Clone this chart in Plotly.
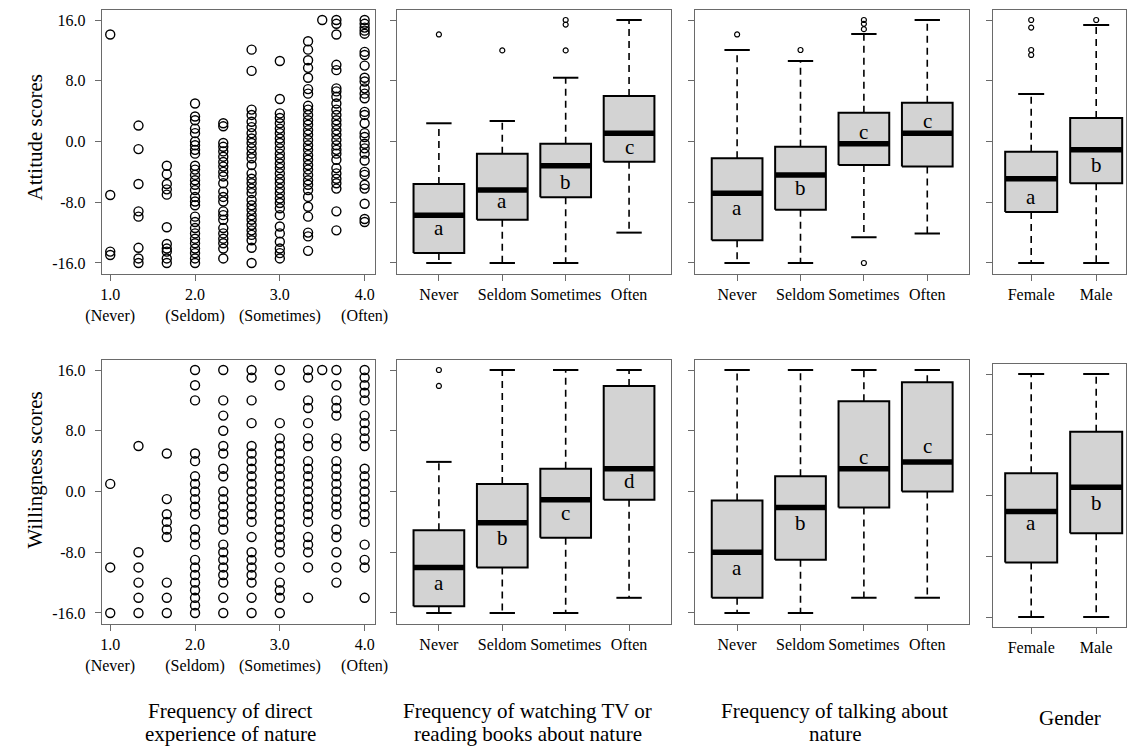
import plotly.graph_objects as go

FONT = "Liberation Serif"

# ---------------- data ----------------
freq_levels = ["Never", "Seldom", "Sometimes", "Often"]
gender_levels = ["Female", "Male"]

y_ticks = [-16, -8, 0, 8, 16]
y_tick_text = ["-16.0", "-8.0", "0.0", "8.0", "16.0"]

direct_levels = [1.0, 1.333, 1.667, 2.0, 2.333, 2.667, 3.0, 3.333, 3.5, 3.667, 4.0]
direct_ticks = [1.0, 2.0, 3.0, 4.0]
direct_tick_text = ["1.0<br>(Never)", "2.0<br>(Seldom)", "3.0<br>(Sometimes)", "4.0<br>(Often)"]

attitude_by_direct = [
    [14.1, -7.05, -14.5, -14.95],
    [2.1, -1.0, -5.6, -9.2, -9.9, -14.0, -15.4, -16.0],
    [-3.2, -4.3, -5.6, -6.3, -7.0, -11.3, -13.5, -14.1, -14.5, -15.4, -16.0],
    [5.0, 3.3, 2.8, 1.7, 1.1, 0.0, -0.5, -1.1, -1.6, -3.2, -3.7, -4.4, -5.1, -5.7, -6.4,
     -7.3, -7.9, -8.4, -9.9, -10.6, -11.4, -12.1, -12.8, -13.4, -14.1, -14.7, -15.4, -16.0],
    [2.4, 2.0, -0.2, -0.7, -1.3, -2.0, -2.7, -3.3, -4.0, -4.6, -5.5, -6.6, -7.3, -7.9,
     -9.2, -9.7, -10.3, -11.4, -12.1, -12.8, -13.4, -14.1, -15.4],
    [12.1, 9.3, 4.2, 3.5, 2.6, 1.9, 1.1, 0.4, -0.2, -0.9, -1.6, -2.2, -3.1, -4.2, -4.9,
     -5.5, -6.2, -6.8, -7.7, -8.4, -9.0, -9.7, -10.3, -11.0, -11.7, -12.3, -13.0, -14.0, -16.0],
    [10.6, 5.6, 3.7, 3.1, 2.4, 1.7, 1.1, 0.4, -0.2, -0.9, -1.6, -2.2, -2.9, -3.5, -4.2,
     -4.9, -5.5, -6.2, -6.8, -7.5, -8.1, -8.8, -9.7, -11.2, -12.1, -13.2, -14.1, -14.7, -15.4],
    [13.2, 12.1, 10.7, 9.7, 8.4, 6.9, 6.3, 4.7, 4.2, 3.5, 2.8, 2.2, 1.5, 0.9, 0.2, -0.5,
     -1.1, -1.8, -2.4, -3.1, -3.7, -4.4, -5.1, -5.7, -6.4, -7.3, -8.6, -9.9, -12.0, -12.5, -14.4],
    [16.0],
    [16.0, 15.5, 14.1, 10.1, 9.4, 7.0, 6.6, 5.9, 5.0, 4.2, 3.5, 2.8, 2.2, 1.5, 0.9, 0.2,
     -0.5, -1.1, -1.6, -2.4, -3.5, -4.2, -4.9, -5.5, -6.2, -9.2, -11.7],
    [16.0, 15.5, 15.0, 14.6, 14.2, 11.8, 11.4, 10.0, 8.4, 7.9, 7.0, 6.3, 5.7, 3.9, 3.5,
     2.4, 1.1, 0.6, -0.3, -0.9, -1.6, -2.5, -4.0, -4.4, -5.7, -6.2, -8.2, -10.2, -10.6],
]

willingness_by_direct = [
    [1, -10, -16],
    [6, -8, -10, -12, -14, -16],
    [5, -1, -3, -4, -5, -6, -12, -14, -16],
    [16, 14, 12, 5, 4, 2, 1, 0, -1, -2, -3, -5, -6, -7, -9, -10, -11, -12, -13, -14, -15, -16],
    [16, 12, 10, 8, 6, 5, 3, 2, 0, -1, -2, -3, -4, -5, -7, -8, -9, -10, -11, -12, -14, -16],
    [16, 15, 12, 9, 6, 5, 4, 3, 2, 1, 0, -1, -2, -3, -4, -6, -8, -9, -10, -11, -12, -14, -16],
    [16, 14, 9, 7, 6, 5, 4, 3, 2, 1, 0, -1, -2, -3, -4, -5, -6, -7, -8, -10, -12, -13, -14, -16],
    [16, 15, 12, 11, 9, 7, 6, 4, 3, 2, 1, 0, -1, -2, -3, -4, -6, -7, -8, -10, -14],
    [16],
    [16, 14, 12, 11, 10, 7, 6, 4, 3, 2, 1, 0, -1, -2, -3, -5, -6, -8, -10, -12],
    [16, 15, 14, 13, 12, 10, 9, 8, 7, 6, 3, 2, 1, 0, -1, -2, -3, -4, -7, -9, -10, -14],
]

# attitude ~ TV / books
att_tv_lower = [-16.0, -16.0, -16.0, -12.0]
att_tv_q1 = [-14.7, -10.3, -7.35, -2.65]
att_tv_median = [-9.7, -6.4, -3.2, 1.1]
att_tv_q3 = [-5.6, -1.6, -0.3, 6.0]
att_tv_upper = [2.4, 2.7, 8.4, 16.0]
att_tv_outliers = [[14.1], [12.0], [16.0, 15.4, 12.0], []]
att_tv_mean = [-11.4, -7.9, -5.3, -0.7]
att_tv_letters = ["a", "a", "b", "c"]

# attitude ~ talking
att_talk_lower = [-16.0, -16.0, -12.6, -12.1]
att_talk_q1 = [-13.0, -9.0, -3.1, -3.3]
att_talk_median = [-6.8, -4.4, -0.3, 1.1]
att_talk_q3 = [-2.2, -0.7, 3.8, 5.1]
att_talk_upper = [12.05, 10.6, 14.15, 16.0]
att_talk_outliers = [[14.1], [12.05], [16.0, 15.5, 14.8, -16.0], []]
att_talk_mean = [-8.8, -6.1, 1.3, 2.75]
att_talk_letters = ["a", "b", "c", "c"]

# attitude ~ gender
att_gen_lower = [-16.0, -16.0]
att_gen_q1 = [-9.3, -5.5]
att_gen_median = [-4.9, -1.1]
att_gen_q3 = [-1.35, 3.1]
att_gen_upper = [6.25, 15.35]
att_gen_outliers = [[16.0, 15.0, 12.05, 11.4], [16.0]]
att_gen_mean = [-7.25, -3.1]
att_gen_letters = ["a", "b"]

# willingness ~ TV / books
wil_tv_lower = [-16.0, -16.0, -16.0, -14.0]
wil_tv_q1 = [-15.1, -10.0, -6.1, -1.1]
wil_tv_median = [-10.0, -4.1, -1.1, 3.0]
wil_tv_q3 = [-5.1, 1.0, 3.0, 13.9]
wil_tv_upper = [3.9, 16.0, 16.0, 16.0]
wil_tv_outliers = [[16.0, 13.9], [], [], []]
wil_tv_mean = [-12.1, -6.1, -2.8, 1.4]
wil_tv_letters = ["a", "b", "c", "d"]

# willingness ~ talking
wil_talk_lower = [-16.0, -16.0, -14.0, -14.0]
wil_talk_q1 = [-14.0, -9.0, -2.1, 0.0]
wil_talk_median = [-8.0, -2.1, 3.0, 3.9]
wil_talk_q3 = [-1.2, 2.0, 11.9, 14.4]
wil_talk_upper = [16.0, 16.0, 16.0, 16.0]
wil_talk_outliers = [[], [], [], []]
wil_talk_mean = [-10.1, -4.1, 4.6, 6.0]
wil_talk_letters = ["a", "b", "c", "c"]

# willingness ~ gender
wil_gen_lower = [-16.0, -16.0]
wil_gen_q1 = [-8.8, -4.95]
wil_gen_median = [-2.1, 1.1]
wil_gen_q3 = [2.95, 8.4]
wil_gen_upper = [16.0, 16.0]
wil_gen_outliers = [[], []]
wil_gen_mean = [-3.6, -1.0]
wil_gen_letters = ["a", "b"]

row_titles = ["Attitude scores", "Willingness scores"]
col_titles = [
    ["Frequency of direct", "experience of nature"],
    ["Frequency of watching TV or", "reading books about nature"],
    ["Frequency of talking about", "nature"],
    ["Gender"],
]

# ---------------- figure ----------------
fig = go.Figure()
W, H = 1140, 746
AX = "#6a6a6a"


def add_scatter(n, groups):
    xs, ys = [], []
    for lev, vals in zip(direct_levels, groups):
        for v in vals:
            xs.append(lev)
            ys.append(v)
    fig.add_trace(go.Scatter(
        x=xs, y=ys, mode="markers", xaxis=f"x{n}", yaxis=f"y{n}",
        marker=dict(symbol="circle-open", size=9, color="black", line=dict(width=1.4)),
        showlegend=False, hoverinfo="skip"))


def add_boxes(n, lo, q1, med, q3, hi, outl, means, letters):
    xa, ya = f"x{n}", f"y{n}"
    bw, cw = 0.4, 0.2
    wx, wy, cx, cy, rx, ry, mx, my, ox, oy = [], [], [], [], [], [], [], [], [], []
    for i in range(len(q1)):
        c = i + 1
        wx += [c, c, None, c, c, None]
        wy += [q3[i], hi[i], None, q1[i], lo[i], None]
        cx += [c - cw, c + cw, None, c - cw, c + cw, None]
        cy += [hi[i], hi[i], None, lo[i], lo[i], None]
        rx += [c - bw, c + bw, c + bw, c - bw, c - bw, None]
        ry += [q1[i], q1[i], q3[i], q3[i], q1[i], None]
        mx += [c - bw, c + bw, None]
        my += [med[i], med[i], None]
        for v in outl[i]:
            ox.append(c)
            oy.append(v)
    common = dict(xaxis=xa, yaxis=ya, showlegend=False, hoverinfo="skip")
    fig.add_trace(go.Scatter(x=wx, y=wy, mode="lines",
                             line=dict(color="black", width=1.6, dash="7px,5px"), **common))
    fig.add_trace(go.Scatter(x=cx, y=cy, mode="lines",
                             line=dict(color="black", width=2), **common))
    fig.add_trace(go.Scatter(x=rx, y=ry, mode="lines", fill="toself", fillcolor="#d3d3d3",
                             line=dict(color="black", width=2), **common))
    fig.add_trace(go.Scatter(x=mx, y=my, mode="lines",
                             line=dict(color="black", width=5.5), **common))
    if ox:
        fig.add_trace(go.Scatter(x=ox, y=oy, mode="markers",
                                 marker=dict(symbol="circle-open", size=5, color="black",
                                             line=dict(width=1.2)), **common))
    for i, t in enumerate(letters):
        fig.add_annotation(x=i + 1, y=means[i], xref=xa, yref=ya, text=t, showarrow=False,
                           font=dict(family=FONT, size=21, color="black"),
                           xanchor="center", yanchor="middle")


add_scatter(1, attitude_by_direct)
add_boxes(2, att_tv_lower, att_tv_q1, att_tv_median, att_tv_q3, att_tv_upper,
          att_tv_outliers, att_tv_mean, att_tv_letters)
add_boxes(3, att_talk_lower, att_talk_q1, att_talk_median, att_talk_q3, att_talk_upper,
          att_talk_outliers, att_talk_mean, att_talk_letters)
add_boxes(4, att_gen_lower, att_gen_q1, att_gen_median, att_gen_q3, att_gen_upper,
          att_gen_outliers, att_gen_mean, att_gen_letters)
add_scatter(5, willingness_by_direct)
add_boxes(6, wil_tv_lower, wil_tv_q1, wil_tv_median, wil_tv_q3, wil_tv_upper,
          wil_tv_outliers, wil_tv_mean, wil_tv_letters)
add_boxes(7, wil_talk_lower, wil_talk_q1, wil_talk_median, wil_talk_q3, wil_talk_upper,
          wil_talk_outliers, wil_talk_mean, wil_talk_letters)
add_boxes(8, wil_gen_lower, wil_gen_q1, wil_gen_median, wil_gen_q3, wil_gen_upper,
          wil_gen_outliers, wil_gen_mean, wil_gen_letters)

# pixel layout
col_px = [(88, 368), (391, 672), (697, 978), (1003, 1139)]
row_px = [(10, 274), (360, 624)]
gender_bottom_px = (364, 627)

layout = {}
for n in range(1, 9):
    r = (n - 1) // 4
    c = (n - 1) % 4
    x0, x1 = col_px[c]
    y0, y1 = row_px[r]
    if n == 8:
        y0, y1 = gender_bottom_px
    xd = [x0 / W, x1 / W]
    yd = [1 - y1 / H, 1 - y0 / H]
    base = dict(showline=True, mirror=True, linecolor=AX, linewidth=1, ticks="outside",
                ticklen=6, tickcolor=AX, tickwidth=1, showgrid=False, zeroline=False,
                tickfont=dict(family=FONT, size=16, color="black"), fixedrange=True)
    if c == 0:
        xax = dict(base, domain=xd, anchor=f"y{n}", range=[0.9, 4.118],
                   tickvals=direct_ticks, ticktext=direct_tick_text)
    elif c in (1, 2):
        xax = dict(base, domain=xd, anchor=f"y{n}", range=[0.34, 4.66],
                   tickvals=[1, 2, 3, 4], ticktext=freq_levels)
    else:
        xax = dict(base, domain=xd, anchor=f"y{n}", range=[0.42, 0.42 + 136 / 66.7],
                   tickvals=[1, 2], ticktext=gender_levels)
    yr = [-17.45, 17.32] if n != 8 else [-17.3, 17.32]
    yax = dict(base, domain=yd, anchor=f"x{n}", range=yr, tickvals=y_ticks,
               ticktext=y_tick_text, showticklabels=(c == 0), ticklabelstandoff=6)
    key = "" if n == 1 else str(n)
    layout["xaxis" + key] = xax
    layout["yaxis" + key] = yax

fig.update_layout(**layout)

# row titles
for txt, yc in zip(row_titles, [137, 470]):
    fig.add_annotation(x=19 / W, y=1 - yc / H, xref="paper", yref="paper", text=txt,
                       textangle=-90, showarrow=False,
                       font=dict(family=FONT, size=21, color="black"),
                       xanchor="center", yanchor="middle")

# column titles
col_centers = [220, 525, 840, 1081]
for lines, xc in zip(col_titles, col_centers):
    ys = [711, 734] if len(lines) == 2 else [718]
    for line, yc in zip(lines, ys):
        fig.add_annotation(x=xc / W, y=1 - yc / H, xref="paper", yref="paper", text=line,
                           showarrow=False, font=dict(family=FONT, size=21, color="black"),
                           xanchor="center", yanchor="middle")

fig.update_layout(width=W, height=H, margin=dict(l=0, r=0, t=0, b=0),
                  paper_bgcolor="white", plot_bgcolor="white", showlegend=False)

fig.write_html("out.html", config={"displayModeBar": False})

# remove the browser's default page margin so the figure fills the window exactly
with open("out.html", "r", encoding="utf-8") as f:
    html = f.read()
html = html.replace("<head>", "<head><style>html,body{margin:0;padding:0;overflow:hidden;}</style>", 1)
with open("out.html", "w", encoding="utf-8") as f:
    f.write(html)
